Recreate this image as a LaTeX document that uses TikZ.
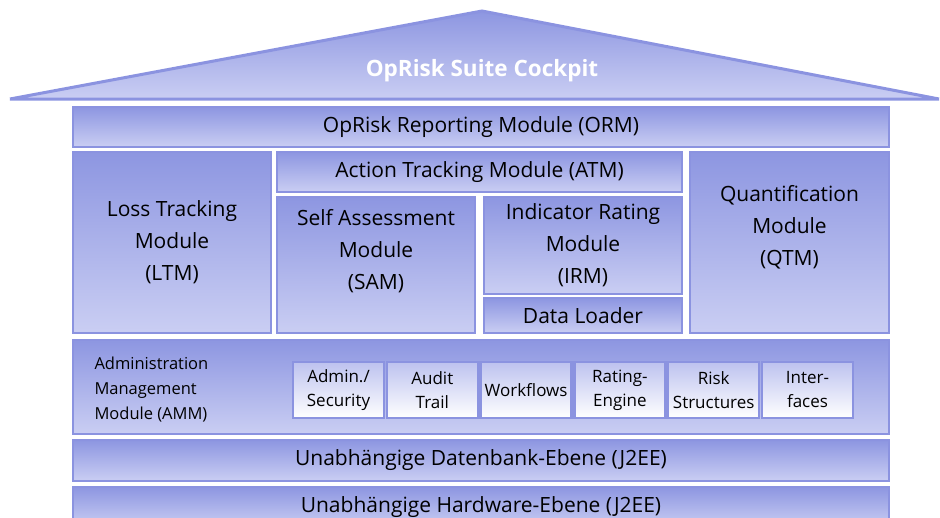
\documentclass[tikz,border=0pt]{standalone}
\usepackage{fontspec}
\setmainfont{Open Sans}
\definecolor{edge}{HTML}{8B93E0}
\definecolor{shadetop}{HTML}{8D96E1}
\definecolor{shadebot}{HTML}{CACEF3}
\definecolor{celltop}{HTML}{BDC2EF}
\tikzset{
  module/.style={draw=edge, line width=2pt, top color=shadetop, bottom color=shadebot,
    inner sep=0pt, align=center, font=\fontsize{21}{32}\selectfont},
  cell/.style={draw=edge, line width=2.5pt, top color=celltop, bottom color=white,
    inner sep=0pt, align=center, font=\fontsize{17}{24}\selectfont,
    minimum width=91pt, minimum height=56pt},
  caption/.style={align=center, font=\fontsize{21}{32}\selectfont},
}
\begin{document}
\begin{tikzpicture}[x=1pt,y=-1pt]
  \useasboundingbox (0,0) rectangle (940,517);
  \clip (0,0) rectangle (940,517);

  \draw[draw=edge, line width=3pt, top color=shadetop, bottom color=shadebot]
    (10,99) -- (482,11) -- (939,99) -- cycle;
  \node[text=white, font=\bfseries\fontsize{22.5}{26}\selectfont] (cockpit) at (482,71) {OpRisk Suite Cockpit};

  \node[module, minimum width=816pt, minimum height=40pt] (orm) at (481,127) {OpRisk Reporting Module (ORM)};
  \node[module, minimum width=198pt, minimum height=181pt] (ltm) at (172,242.5) {Loss Tracking\\Module\\(LTM)};
  \node[module, minimum width=405pt, minimum height=40pt] (atm) at (479.5,172) {Action Tracking Module (ATM)};
  \node[module, minimum width=198pt, minimum height=136pt] (sam) at (376,265) {};
  \node[caption] at (376,251) {Self Assessment\\Module\\(SAM)};
  \node[module, minimum width=198pt, minimum height=97pt] (irm) at (583,245.5) {Indicator Rating\\Module\\(IRM)};
  \node[module, minimum width=198pt, minimum height=35pt] (loader) at (583,315.5) {Data Loader};
  \node[module, minimum width=199pt, minimum height=181pt] (qtm) at (789.5,242.5) {};
  \node[caption] at (789.5,227.5) {Quantification\\Module\\(QTM)};

  \node[module, minimum width=816pt, minimum height=94pt] (amm) at (481,387) {};
  \node[anchor=west, align=left, font=\fontsize{16.5}{25}\selectfont] at (91,390) {Administration\\Management\\Module (AMM)};
  \foreach \txt [count=\i from 0] in {{Admin./\\Security}, {Audit\\Trail}, Workflows,
      {Rating-\\Engine}, {Risk\\Structures}, {Inter-\\faces}} {
    \node[cell] (c\i) at ({338.5+\i*93.8},390) {\txt};
  }

  \node[module, minimum width=816pt, minimum height=41pt] (db) at (481,460.5) {Unabhängige Datenbank-Ebene (J2EE)};
  \node[module, minimum width=816pt, minimum height=40pt] (hw) at (481,507) {Unabhängige Hardware-Ebene (J2EE)};
\end{tikzpicture}
\end{document}
